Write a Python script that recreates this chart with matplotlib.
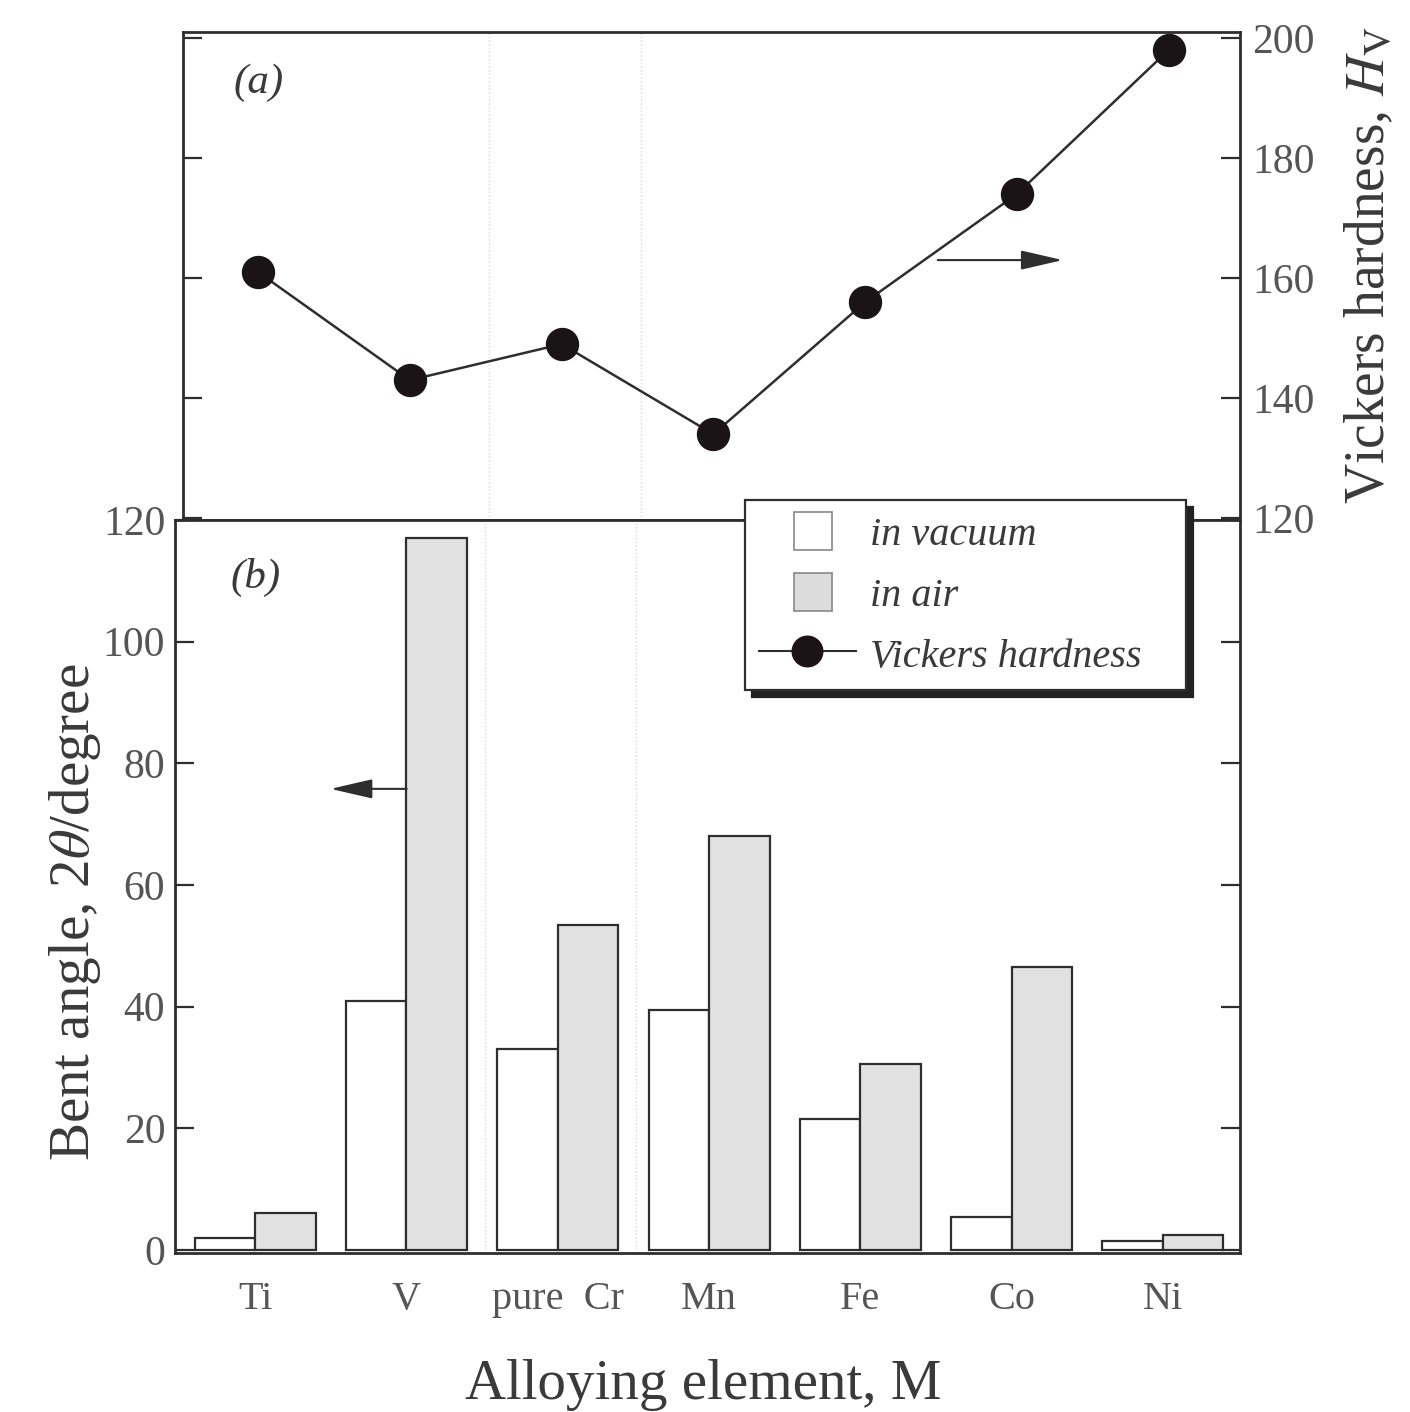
import matplotlib
matplotlib.use("Agg")
import matplotlib.pyplot as plt
from matplotlib.patches import Rectangle, Patch
from matplotlib.lines import Line2D
from matplotlib.legend_handler import HandlerPatch
import numpy as np

# ---- data ----
elements = ["Ti", "V", "pure  Cr", "Mn", "Fe", "Co", "Ni"]
bent_vacuum = [2.0, 41.0, 33.0, 39.5, 21.5, 5.5, 1.5]
bent_air = [6.0, 117.0, 53.5, 68.0, 30.5, 46.5, 2.5]
hardness = [161, 143, 149, 134, 156, 174, 198]
bent_ticks = [0, 20, 40, 60, 80, 100, 120]
hard_ticks = [120, 140, 160, 180, 200]

plt.rcParams['font.family'] = ['Liberation Serif', 'DejaVu Serif']
plt.rcParams['mathtext.fontset'] = 'stix'

INK = '#2e2e2e'
TXT = '#3a3a3a'
TICKTXT = '#555555'

fig = plt.figure(figsize=(14.1, 14.12), dpi=100)
fig.patch.set_facecolor('white')

ax_top = fig.add_axes([183/1410, 1-520/1412, (1240-183)/1410, (520-32)/1412])
ax_bot = fig.add_axes([175/1410, 1-1253/1412, (1240-175)/1410, (1253-520)/1412])

x = np.arange(len(elements))

# ---- bottom: bars ----
w = 0.4
ax_bot.bar(x - w/2, bent_vacuum, width=w, facecolor='white', edgecolor=INK, linewidth=1.6, zorder=3)
ax_bot.bar(x + w/2, bent_air, width=w, facecolor='#e2e2e2', edgecolor=INK, linewidth=1.6, zorder=3)
ax_bot.set_xlim(-0.53, 6.51)
ax_bot.set_ylim(-0.5, 120)
ax_bot.set_yticks(bent_ticks)
ax_bot.set_yticklabels([str(t) for t in bent_ticks])
ax_bot.set_xticks(x)
ax_bot.set_xticklabels(elements)
ax_bot.tick_params(axis='x', length=0, pad=20, labelsize=29, labelcolor=TICKTXT)
ax_bot.tick_params(axis='y', direction='in', length=14, width=1.6, color=INK,
                   left=True, right=True, labelleft=True, labelright=False,
                   labelsize=30, labelcolor=TICKTXT, pad=7)
for s in ax_bot.spines.values():
    s.set_linewidth(2.0)
    s.set_color(INK)
ax_bot.text(0.0, 110.5, "(b)", fontsize=31, style='italic', color=TXT, ha='center', va='center')
ax_bot.annotate("", xy=(0.48, 75.8), xytext=(1.02, 75.8),
                arrowprops=dict(arrowstyle='-|>,head_length=1.3,head_width=0.3',
                                mutation_scale=20, color=INK, lw=1.5))

# ---- top: hardness line ----
ax_top.plot(x, hardness, color=INK, lw=1.8, marker='o', markersize=23,
            markerfacecolor='#1a1416', markeredgecolor='#1a1416', zorder=3)
ax_top.set_xlim(-0.495, 6.47)
ax_top.set_ylim(119.7, 201)
ax_top.set_xticks([])
ax_top.set_yticks(hard_ticks)
ax_top.set_yticklabels([str(t) for t in hard_ticks])
ax_top.tick_params(axis='y', direction='in', length=14, width=1.6, color=INK,
                   left=True, right=True, labelleft=False, labelright=True,
                   labelsize=30, labelcolor=TICKTXT, pad=9)
for s in ax_top.spines.values():
    s.set_linewidth(2.0)
    s.set_color(INK)
ax_top.text(0.0, 192.5, "(a)", fontsize=31, style='italic', color=TXT, ha='center', va='center')
ax_top.annotate("", xy=(5.32, 163.0), xytext=(4.46, 163.0),
                arrowprops=dict(arrowstyle='-|>,head_length=1.3,head_width=0.3',
                                mutation_scale=20, color=INK, lw=1.5))

# faint dotted separators (scan)
for ax in (ax_top, ax_bot):
    for xv in (1.52, 2.52):
        ax.axvline(xv, color='#d8d8d8', lw=1.0, ls=':', zorder=1)

# ---- axis labels ----
fig.text(75/1410, 1-912/1412, r"Bent angle, 2$\theta$/degree", rotation=90,
         fontsize=41, color=TXT, ha='center', va='center')
fig.text(1370/1410, 1-265/1412, r"Vickers hardness, $H_\mathrm{V}$", rotation=90,
         fontsize=40, color=TXT, ha='center', va='center')
fig.text(703/1410, 1-1385/1412, "Alloying element, M", fontsize=41, color=TXT,
         ha='center', va='center')

# ---- legend ----
def square(legend, orig_handle, xdescent, ydescent, width, height, fontsize):
    s = 27
    return Rectangle((-xdescent + width/2 - s/2 + 4, -ydescent + height/2 - s/2), s, s)

h_vac = Patch(facecolor='white', edgecolor='#888888', linewidth=1.2)
h_air = Patch(facecolor='#dcdcdc', edgecolor='#888888', linewidth=1.2)
h_hv = Line2D([], [], color=INK, lw=1.5, marker='o', markersize=22,
              markerfacecolor='#1a1416', markeredgecolor='#1a1416')
leg = fig.legend([h_vac, h_air, h_hv], ["in vacuum", "in air", "Vickers hardness   "],
                 loc='upper left', bbox_to_anchor=(745/1410, 1-500/1412),
                 borderaxespad=0.0,
                 handler_map={Patch: HandlerPatch(patch_func=square)},
                 prop={'style': 'italic', 'size': 29},
                 handlelength=2.4, handleheight=0.9, handletextpad=0.35,
                 labelspacing=0.53, borderpad=0.35, fancybox=False,
                 framealpha=1, edgecolor=INK,
                 shadow={'ox': 5, 'oy': -5, 'color': '#222222', 'alpha': 1})
leg.get_frame().set_linewidth(1.6)
for t in leg.get_texts():
    t.set_color(TXT)

fig.savefig("out.png", dpi=100)
